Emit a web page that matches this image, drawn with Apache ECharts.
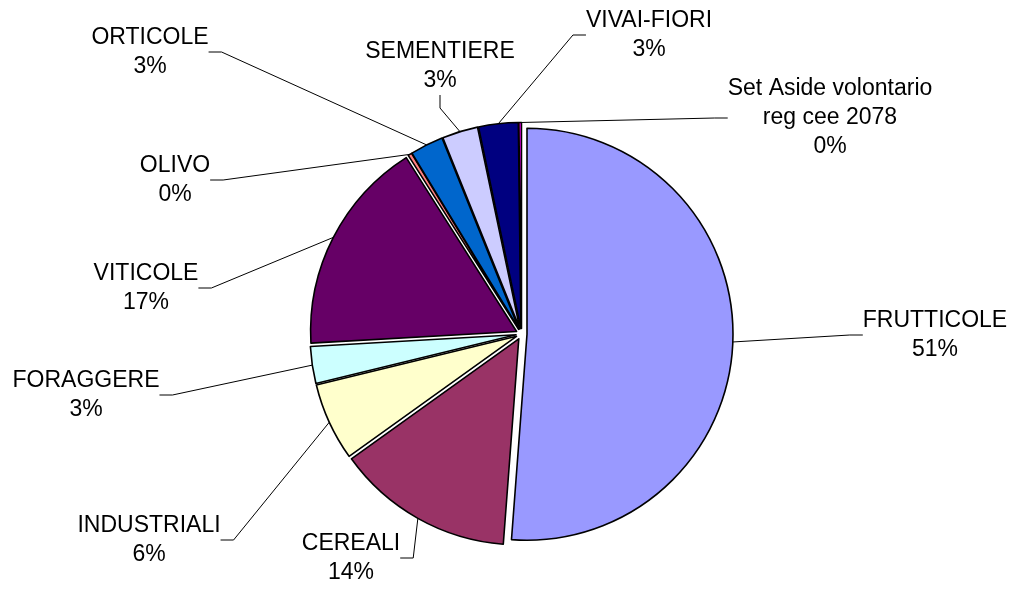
<!DOCTYPE html>
<html>
<head>
<meta charset="utf-8">
<script src="https://cdn.jsdelivr.net/npm/echarts@6/dist/echarts.min.js"></script>
<style>
  html, body { margin: 0; padding: 0; background: #fff; }
  #chart { width: 1010px; height: 592px; }
</style>
</head>
<body>
<div id="chart"></div>
<script>
// Categorie colturali (ordine orario a partire da mezzogiorno)
const categories = ['FRUTTICOLE', 'CEREALI', 'INDUSTRIALI', 'FORAGGERE', 'VITICOLE',
    'OLIVO', 'ORTICOLE', 'SEMENTIERE', 'VIVAI-FIORI', 'Set Aside volontario\nreg cee 2078'];
// Quote in percentuale
const shares = [51.2, 13.9, 6.1, 2.9, 16.9, 0.3, 2.6, 2.8, 3.1, 0.2];

// palette Excel classica
const colors = ['#9999FF', '#993366', '#FFFFCC', '#CCFFFF', '#660066',
    '#FF8080', '#0066CC', '#CCCCFF', '#000080', '#FF00FF'];

// posizione (centro) delle etichette, come nel grafico originale
const labelPos = [
    [935, 335], [351, 558], [149, 540], [86, 395], [146, 288],
    [175, 180], [150, 52], [440, 66], [649, 35], [830, 118]
];

const CENTER = [521.5, 334];
const R = 206;
const EXPLODE = 5.5;

const myChart = echarts.init(document.getElementById('chart'));

const option = {
    backgroundColor: '#fff',
    animation: false,
    series: [
        // spicchi "esplosi"
        {
            type: 'pie',
            center: CENTER,
            radius: R,
            startAngle: 90,
            clockwise: true,
            selectedMode: 'multiple',
            selectedOffset: EXPLODE,
            data: categories.map((name, i) => ({
                name: name,
                value: shares[i],
                selected: true,
                itemStyle: { color: colors[i] }
            })),
            itemStyle: { borderColor: '#000', borderWidth: 1.6 },
            select: { itemStyle: { borderColor: '#000', borderWidth: 1.6 } },
            emphasis: { disabled: true },
            label: { show: false },
            labelLine: { show: false }
        },
        // serie trasparente che porta solo etichette e linee guida
        {
            type: 'pie',
            center: CENTER,
            radius: R + EXPLODE,
            startAngle: 90,
            clockwise: true,
            silent: true,
            avoidLabelOverlap: false,
            data: categories.map((name, i) => ({ name: name, value: shares[i] })),
            itemStyle: { color: 'rgba(0,0,0,0)', borderWidth: 0 },
            emphasis: { disabled: true },
            label: {
                show: true,
                position: 'outside',
                formatter: p => p.name + '\n' + Math.round(p.percent) + '%',
                color: '#000',
                fontFamily: '"Liberation Sans", Arial, sans-serif',
                fontSize: 23,
                lineHeight: 29,
                align: 'center'
            },
            labelLine: {
                show: true,
                length: 10,
                length2: 13,
                smooth: false,
                lineStyle: { color: '#000', width: 1 }
            },
            labelLayout: function (params) {
                const p = labelPos[params.dataIndex];
                return { x: p[0], y: p[1], align: 'center', verticalAlign: 'middle' };
            }
        }
    ]
};

myChart.setOption(option);
</script>
</body>
</html>
